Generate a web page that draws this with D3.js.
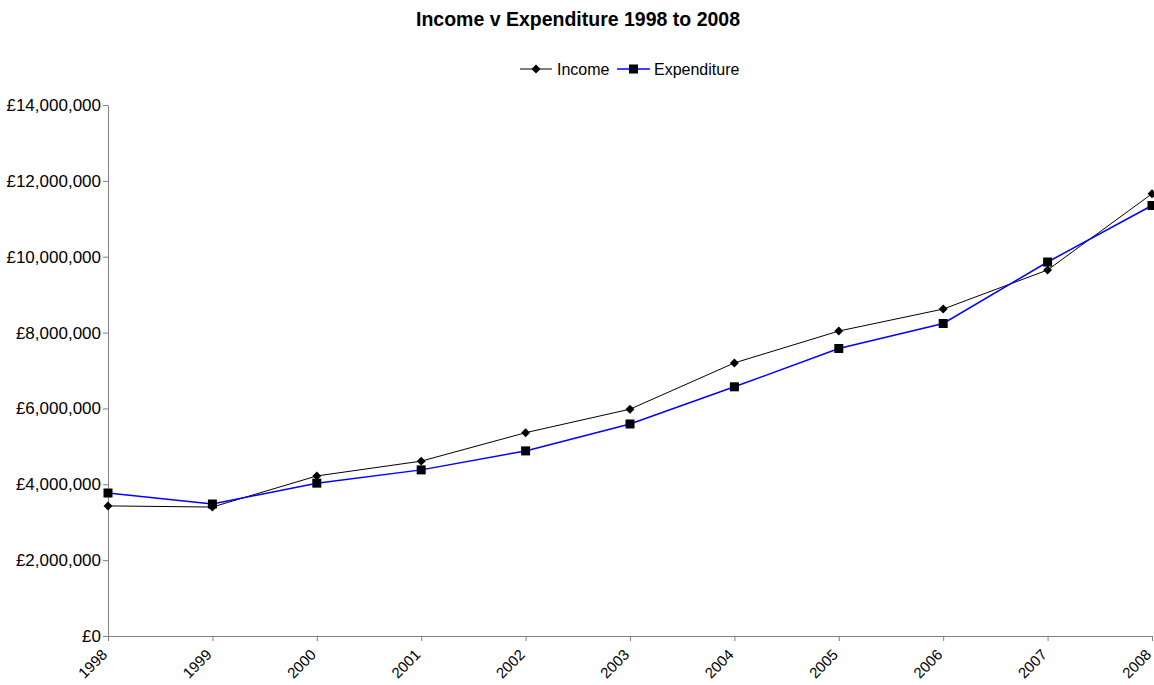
<!DOCTYPE html>
<html>
<head>
<meta charset="utf-8">
<script src="https://cdn.jsdelivr.net/npm/d3@7"></script>
<style>
body { margin: 0; background: #fff; }
text { font-family: Arial, "Liberation Sans", sans-serif; }
</style>
</head>
<body>
<svg width="1154" height="685"></svg>
<script>
var years = ["1998","1999","2000","2001","2002","2003","2004","2005","2006","2007","2008"];
var income = [3430000, 3400000, 4220000, 4610000, 5360000, 5980000, 7200000, 8040000, 8620000, 9650000, 11660000];
var expenditure = [3770000, 3480000, 4030000, 4380000, 4880000, 5590000, 6570000, 7580000, 8240000, 9860000, 11350000];
var yTicks = [0, 2000000, 4000000, 6000000, 8000000, 10000000, 12000000, 14000000];

var svg = d3.select("svg");
var plotLeft = 108, plotRight = 1152, plotTop = 105, plotBottom = 636;

var xScale = d3.scalePoint().domain(years).range([plotLeft, plotRight]);
var yScale = d3.scaleLinear().domain([0, 14000000]).range([plotBottom, plotTop]);

var money = d => "£" + d3.format(",")(d);

var yAxis = d3.axisLeft(yScale).tickValues(yTicks).tickFormat(money).tickSize(5).tickSizeOuter(0);
var xAxis = d3.axisBottom(xScale).tickSize(5).tickSizeOuter(0);

var gy = svg.append("g").attr("transform", "translate(" + plotLeft + ",0)").call(yAxis);
gy.selectAll("text").attr("font-size", 17).attr("fill", "#000").attr("x", -7)
    .style("font-family", "Arial, 'Liberation Sans', sans-serif");

var gx = svg.append("g").attr("transform", "translate(0," + plotBottom + ")").call(xAxis);
gx.selectAll("text")
    .attr("font-size", 15).attr("fill", "#000")
    .style("font-family", "Arial, 'Liberation Sans', sans-serif")
    .attr("text-anchor", "end")
    .attr("dy", "0.35em")
    .attr("x", 0).attr("y", 0)
    .attr("transform", "translate(-4,16) rotate(-45)");

svg.selectAll(".domain, .tick line").attr("stroke", "#808080");

var line = d3.line().x((d, i) => xScale(years[i])).y(d => yScale(d));

svg.append("path").datum(income).attr("d", line)
    .attr("fill", "none").attr("stroke", "#000").attr("stroke-width", 1);
svg.append("path").datum(expenditure).attr("d", line)
    .attr("fill", "none").attr("stroke", "#0000ff").attr("stroke-width", 1.5);

var diamond = d3.symbol().type(d3.symbolSquare).size(40);
svg.append("g").selectAll("path").data(income).enter().append("path")
    .attr("d", diamond)
    .attr("transform", (d, i) => "translate(" + xScale(years[i]) + "," + yScale(d) + ") rotate(45)")
    .attr("fill", "#000");

svg.append("g").selectAll("rect").data(expenditure).enter().append("rect")
    .attr("x", (d, i) => xScale(years[i]) - 4.5)
    .attr("y", d => yScale(d) - 4.5)
    .attr("width", 9).attr("height", 9)
    .attr("fill", "#000");

svg.append("text").attr("x", 578).attr("y", 26)
    .attr("text-anchor", "middle").attr("font-size", 19.5).attr("font-weight", "bold")
    .text("Income v Expenditure 1998 to 2008");

// legend
var lg = svg.append("g").attr("transform", "translate(0,69)");
lg.append("line").attr("x1", 520).attr("x2", 552).attr("y1", 0).attr("y2", 0).attr("stroke", "#000");
lg.append("path").attr("d", diamond).attr("transform", "translate(536,0) rotate(45)").attr("fill", "#000");
lg.append("text").attr("x", 557).attr("y", 6).attr("font-size", 16).text("Income");
lg.append("line").attr("x1", 617).attr("x2", 650).attr("y1", 0).attr("y2", 0).attr("stroke", "#0000ff").attr("stroke-width", 1.5);
lg.append("rect").attr("x", 629).attr("y", -4.5).attr("width", 9).attr("height", 9).attr("fill", "#000");
lg.append("text").attr("x", 654).attr("y", 6).attr("font-size", 16).text("Expenditure");
</script>
</body>
</html>
